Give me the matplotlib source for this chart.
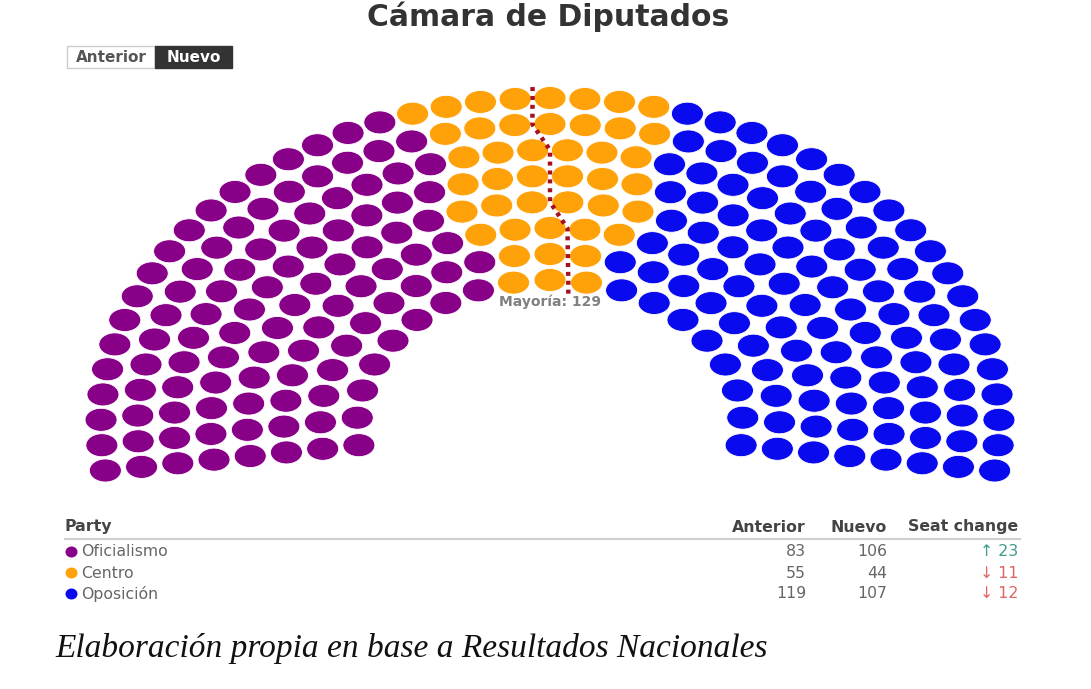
import numpy as np
import matplotlib
matplotlib.use("Agg")
import matplotlib.pyplot as plt
from matplotlib.patches import Ellipse, Rectangle

# Data
parties = ["Oficialismo", "Centro", "Oposición"]
seats_anterior = [83, 55, 119]
seats_nuevo = [106, 44, 107]
party_colors = ["#870087", "#ffa20a", "#0a0aee"]
majority = 129
n_rows = 8

# Layout (pixel coordinates)
W, H = 1091, 689
CX, CY = 550, 425
A_IN, A_OUT = 193, 449      # horizontal radii of inner / outer rows
B_IN, B_OUT = 145, 327      # vertical radii
ROW_RATIO = 0.42            # inner/outer ratio used to share seats among rows
OVER = np.deg2rad(8.0)      # arc extends a bit below horizontal
DOT_W, DOT_H = 32, 23


def parliament_seats(total, rows):
    rel = np.linspace(ROW_RATIO, 1, rows)
    counts = np.round(total * rel / rel.sum()).astype(int)
    i = rows - 1
    while counts.sum() != total:
        counts[i] += 1 if counts.sum() < total else -1
        i = (i - 1) % rows
    ang, row = [], []
    for r, n in enumerate(counts):
        ang.extend(np.linspace(np.pi + OVER, -OVER, n))
        row.extend([r] * n)
    ang = np.array(ang)
    row = np.array(row)
    order = np.lexsort((row, -ang))
    return ang[order], row[order]


ang, row = parliament_seats(sum(seats_nuevo), n_rows)
t = np.linspace(0, 1, n_rows)
a_r = A_IN + t * (A_OUT - A_IN)
b_r = B_IN + t * (B_OUT - B_IN)
xs = CX + a_r[row] * np.cos(ang)
ys = CY - b_r[row] * np.sin(ang)

seat_party = np.repeat(np.arange(len(parties)), seats_nuevo)

fig = plt.figure(figsize=(W / 100, H / 100), dpi=100)
ax = fig.add_axes([0, 0, 1, 1])
ax.set_xlim(0, W)
ax.set_ylim(H, 0)
ax.axis("off")

for x, y, p in zip(xs, ys, seat_party):
    ax.add_patch(Ellipse((x, y), DOT_W, DOT_H, facecolor=party_colors[p],
                         edgecolor="white", lw=0.6))

# majority line: boundary between seat 129 and 130 in each row
idx = np.arange(len(ang))
lx, ly = [], []
for r in range(n_rows):
    inside = ang[(row == r) & (idx < majority)]
    outside = ang[(row == r) & (idx >= majority)]
    a_mid = (inside.min() + outside.max()) / 2
    lx.append(CX + a_r[r] * np.cos(a_mid))
    ly.append(CY - b_r[r] * np.sin(a_mid))
step_b = (B_OUT - B_IN) / (n_rows - 1)
lx = [lx[0]] + lx + [lx[-1]]
ly = [ly[0] + step_b * 0.5] + ly + [ly[-1] - step_b * 0.55]
ax.plot(lx, ly, color="#a51020", lw=3.2, ls=(0, (0.9, 1.1)), zorder=5)
ax.text(CX, ly[0] + 8, f"Mayoría: {majority}", ha="center", va="center",
        fontsize=10, color="#808080", family="DejaVu Sans", fontweight="bold")

# title and toggle
ax.text(548, 17, "Cámara de Diputados", ha="center", va="center",
        fontsize=21.5, fontweight="bold", color="#333333", family="DejaVu Sans")
ax.add_patch(Rectangle((67, 46), 88, 22, facecolor="white", edgecolor="#cccccc", lw=1))
ax.add_patch(Rectangle((155, 46), 77, 22, facecolor="#333333", edgecolor="#333333", lw=1))
ax.text(111, 57.5, "Anterior", ha="center", va="center", fontsize=11,
        fontweight="bold", color="#555555", family="DejaVu Sans")
ax.text(193.5, 57.5, "Nuevo", ha="center", va="center", fontsize=11,
        fontweight="bold", color="white", family="DejaVu Sans")

# table
hdr_y = 527
fs = 11.3
ax.text(65, hdr_y, "Party", ha="left", va="center", fontsize=fs,
        fontweight="bold", color="#444444", family="DejaVu Sans")
for xpos, lab in [(806, "Anterior"), (887, "Nuevo"), (1018, "Seat change")]:
    ax.text(xpos, hdr_y, lab, ha="right", va="center", fontsize=fs,
            fontweight="bold", color="#444444", family="DejaVu Sans")
ax.plot([65, 1020], [539, 539], color="#cfcfcf", lw=1.5)
for i, name in enumerate(parties):
    y = 552 + i * 21
    ax.add_patch(Ellipse((71.5, y), 12, 11, facecolor=party_colors[i], edgecolor="none"))
    ax.text(81, y, name, ha="left", va="center", fontsize=fs, color="#666666",
            family="DejaVu Sans")
    ax.text(806, y, str(seats_anterior[i]), ha="right", va="center", fontsize=fs,
            color="#666666", family="DejaVu Sans")
    ax.text(887, y, str(seats_nuevo[i]), ha="right", va="center", fontsize=fs,
            color="#666666", family="DejaVu Sans")
    diff = seats_nuevo[i] - seats_anterior[i]
    arrow = "↑" if diff > 0 else "↓"
    col = "#3f9c8c" if diff > 0 else "#e06464"
    ax.text(1018, y, f"{arrow} {abs(diff)}", ha="right", va="center", fontsize=fs,
            color=col, family="DejaVu Sans")

# caption
ax.text(55, 648, "Elaboración propia en base a Resultados Nacionales", ha="left",
        va="center", fontsize=24, style="italic", color="#111111",
        family="Liberation Serif")

fig.savefig("out.png", dpi=100, facecolor="white")
